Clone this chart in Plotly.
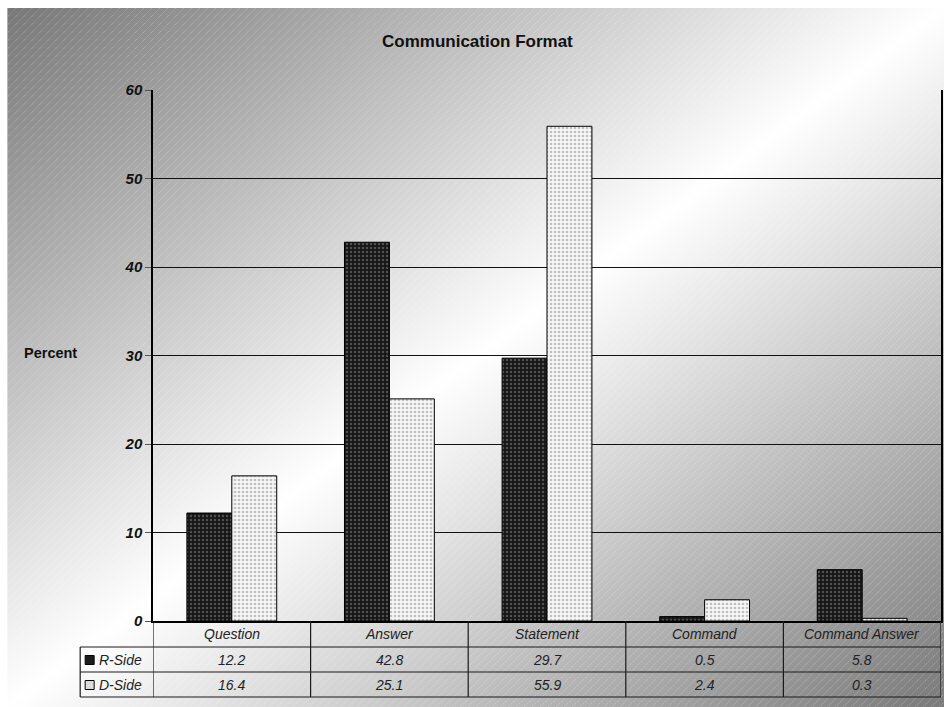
import base64
import plotly.graph_objects as go

categories = ["Question", "Answer", "Statement", "Command", "Command Answer"]
series_names = ["R-Side", "D-Side"]
r_side = [12.2, 42.8, 29.7, 0.5, 5.8]
d_side = [16.4, 25.1, 55.9, 2.4, 0.3]
y_ticks = [0, 10, 20, 30, 40, 50, 60]

W, H = 946, 707
L, R, T, B = 153, 3, 90, 86
PW, PH = W - L - R, H - T - B

def px_x(px):
    return (px - L) / PW

def px_y(py):
    return (H - B - py) / PH

# background: reflected diagonal gradient + faint diagonal hatch
svg = f'''<svg xmlns="http://www.w3.org/2000/svg" width="{W}" height="{H}" viewBox="0 0 {W} {H}">
<defs>
<linearGradient id="g" x1="0" y1="0" x2="1" y2="1">
<stop offset="0" stop-color="#787878"/>
<stop offset="0.5" stop-color="#ffffff"/>
<stop offset="1" stop-color="#7a7a7a"/>
</linearGradient>
<pattern id="h" width="8" height="8" patternUnits="userSpaceOnUse">
<path d="M-2,2 L2,-2 M0,8 L8,0 M6,10 L10,6" stroke="#ffffff" stroke-width="0.8" stroke-opacity="0.3" stroke-dasharray="1.5,1"/>
</pattern>
</defs>
<rect x="0" y="0" width="{W}" height="{H}" fill="#ffffff"/>
<rect x="7" y="8" width="{W-7}" height="{H-8}" fill="url(#g)"/>
<rect x="7" y="8" width="{W-7}" height="{H-8}" fill="url(#h)"/>
</svg>'''
src = "data:image/svg+xml;base64," + base64.b64encode(svg.encode()).decode()

fig = go.Figure()
fig.add_trace(go.Bar(
    x=categories, y=r_side, name=series_names[0],
    marker=dict(color="#1c1c1c", line=dict(color="#000", width=1),
                pattern=dict(shape=".", fgcolor="#8a8a8a", bgcolor="#161616", size=4, solidity=0.3)),
))
fig.add_trace(go.Bar(
    x=categories, y=d_side, name=series_names[1],
    marker=dict(color="#f6f6f6", line=dict(color="#000", width=1),
                pattern=dict(shape=".", fgcolor="#8a8a8a", bgcolor="#f6f6f6", size=4, solidity=0.35)),
))

font_fam = "Liberation Sans, Arial, sans-serif"

fig.update_layout(
    width=W, height=H,
    margin=dict(l=L, r=R, t=T, b=B, pad=0),
    paper_bgcolor="white",
    plot_bgcolor="rgba(0,0,0,0)",
    showlegend=False,
    barmode="group",
    bargap=0.43,
    bargroupgap=0,
    images=[dict(source=src, xref="paper", yref="paper",
                 x=px_x(0), y=px_y(0), sizex=W / PW, sizey=H / PH,
                 xanchor="left", yanchor="top", sizing="stretch", layer="below")],
    xaxis=dict(range=[-0.5, 4.5], showticklabels=False, ticks="", showgrid=False,
               showline=True, linecolor="black", linewidth=2, mirror=False, zeroline=False),
    yaxis=dict(range=[0, 60], tickvals=y_ticks, ticks="outside", ticklen=6, tickcolor="#555",
               tickfont=dict(family=font_fam, size=15, color="#111", weight="bold", style="italic"),
               showgrid=True, gridcolor="#111", gridwidth=1, zeroline=False,
               showline=True, linecolor="black", linewidth=1.5, mirror=True),
)

fig.add_annotation(text="<b>Communication Format</b>", xref="paper", yref="paper",
                   x=px_x(478), y=px_y(42), xanchor="center", yanchor="middle", showarrow=False,
                   font=dict(family=font_fam, size=17, color="#111"))
fig.add_annotation(text="<b>Percent</b>", xref="paper", yref="paper",
                   x=px_x(50), y=px_y(353), xanchor="center", yanchor="middle", showarrow=False,
                   font=dict(family=font_fam, size=14.5, color="#111"))

# data table
row_tops = [621, 647, 672, 697]
line_col = "#1a1a1a"
for i in range(len(categories) + 1):
    fig.add_shape(type="line", xref="x", yref="paper", x0=i - 0.5, x1=i - 0.5,
                  y0=px_y(621), y1=px_y(697), line=dict(color=line_col, width=1.2))
fig.add_shape(type="line", xref="paper", yref="paper", x0=px_x(80), x1=px_x(80),
              y0=px_y(647), y1=px_y(697), line=dict(color=line_col, width=1.2))
for py in row_tops[1:]:
    fig.add_shape(type="line", xref="paper", yref="paper", x0=px_x(80), x1=1,
                  y0=px_y(py), y1=px_y(py), line=dict(color=line_col, width=1.2))

cell_font = dict(family=font_fam, size=14, color="#222", style="italic")
for i, c in enumerate(categories):
    fig.add_annotation(text=c, xref="x", yref="paper", x=i, y=px_y(634),
                       xanchor="center", yanchor="middle", showarrow=False, font=cell_font)
    fig.add_annotation(text=f"{r_side[i]:.1f}", xref="x", yref="paper", x=i, y=px_y(660),
                       xanchor="center", yanchor="middle", showarrow=False, font=cell_font)
    fig.add_annotation(text=f"{d_side[i]:.1f}", xref="x", yref="paper", x=i, y=px_y(685),
                       xanchor="center", yanchor="middle", showarrow=False, font=cell_font)

# legend keys in the table
swatches = [("#1c1c1c", 660), ("#dcdcdc", 685)]
for (col, py), name in zip(swatches, series_names):
    fig.add_shape(type="rect", xref="paper", yref="paper",
                  x0=px_x(85), x1=px_x(94), y0=px_y(py - 4.5), y1=px_y(py + 4.5),
                  fillcolor=col, line=dict(color="#000", width=1))
    fig.add_annotation(text=name, xref="paper", yref="paper", x=px_x(97), y=px_y(py),
                       xanchor="left", yanchor="middle", showarrow=False, font=cell_font)

fig.write_html("out.html")
